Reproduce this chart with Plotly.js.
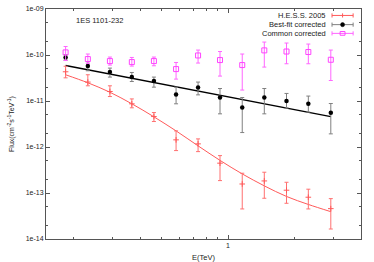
<!DOCTYPE html>
<html>
<head>
<meta charset="utf-8">
<script src="https://cdn.plot.ly/plotly-3.0.1.min.js"></script>
<style>html,body{margin:0;padding:0;background:#fff;}#chart{width:374px;height:262px;}</style>
</head>
<body>
<div id="chart"></div>
<script>
// Energies (TeV)
const energy = [0.184,0.232,0.292,0.367,0.462,0.582,0.732,0.920,1.16,1.46,1.84,2.31,2.92];

// H.E.S.S. 2005
const hessFlux = [4.32e-11,2.58e-11,1.61e-11,8.69e-12,4.59e-12,1.43e-12,1.17e-12,4.45e-13,1.57e-13,1.83e-13,1.15e-13,8.09e-14,4.57e-14];
const hessHi   = [5.69e-11,3.72e-11,2.14e-11,1.11e-11,5.61e-12,2.24e-12,1.50e-12,6.50e-13,2.69e-13,2.83e-13,1.71e-13,1.21e-13,7.54e-14];
const hessLo   = [3.19e-11,2.14e-11,1.25e-11,7.11e-12,3.58e-12,8.36e-13,7.94e-13,1.86e-13,4.50e-14,7.69e-14,5.98e-14,4.50e-14,1.65e-14];
const hessFit  = [3.72e-11,2.49e-11,1.55e-11,8.69e-12,4.53e-12,2.24e-12,1.06e-12,5.12e-13,2.60e-13,1.43e-13,8.41e-14,5.64e-14,3.93e-14];

// Best-fit corrected
const bestFlux = [8.84e-11,5.74e-11,4.25e-11,3.31e-11,2.71e-11,1.38e-11,1.96e-11,1.19e-11,7.21e-12,1.19e-11,9.94e-12,8.69e-12,5.53e-12];
const bestHi   = [1.01e-10,7.13e-11,5.19e-11,4.17e-11,3.31e-11,2.00e-11,2.58e-11,1.87e-11,1.19e-11,1.87e-11,1.46e-11,1.28e-11,8.81e-12];
const bestLo   = [7.68e-11,4.54e-11,3.31e-11,2.65e-11,2.00e-11,8.69e-12,1.36e-11,5.26e-12,2.06e-12,5.26e-12,7.00e-12,5.73e-12,1.93e-12];
const bestFitE = [0.184, 2.92];
const bestFit  = [5.91e-11, 4.59e-12];

// Common corrected
const commonFlux = [1.14e-10,8.16e-11,7.38e-11,7.02e-11,7.38e-11,4.94e-11,9.77e-11,7.76e-11,6.04e-11,1.26e-10,1.19e-10,1.16e-10,7.88e-11];
const commonHi   = [1.53e-10,1.05e-10,9.02e-11,8.84e-11,9.02e-11,6.88e-11,1.28e-10,1.19e-10,1.05e-10,1.91e-10,1.82e-10,1.73e-10,1.28e-10];
const commonLo   = [7.61e-11,6.55e-11,6.04e-11,5.74e-11,5.83e-11,2.99e-11,6.68e-11,3.48e-11,1.73e-11,5.46e-11,6.45e-11,6.45e-11,2.79e-11];

// Ticks
const yTickVals = [1e-14,1e-13,1e-12,1e-11,1e-10,1e-9];
const yTickText = ["1e-14","1e-13","1e-12","1e-11","1e-10","1e-09"];
const yMinorVals = [2e-14,5e-14,2e-13,5e-13,2e-12,5e-12,2e-11,5e-11,2e-10,5e-10];
const xTickVals = [1];
const xTickText = ["1"];
const xMinorVals = [0.2,0.3,0.4,0.5,0.6,0.7,0.8,0.9,2,3];

const legendNames = ["H.E.S.S. 2005","Best-fit corrected","Common corrected"];
const titleText = "1ES 1101-232";

const RED = '#ff5a5a', RED_ERR = '#ff7070';
const BLK = '#000000', BLK_ERR = '#808080';
const MAG = '#ff44ff', MAG_ERR = '#ff66ff';
const FONT = 'Liberation Sans, Arial, sans-serif';

function errs(v, hi, lo){
  return {type:'data', symmetric:false,
    array: v.map((x,i)=>hi[i]-x), arrayminus: v.map((x,i)=>x-lo[i]),
    thickness:1, width:2};
}

const traces = [
  {x: energy, y: hessFit, mode:'lines', line:{color:RED, width:1, shape:'spline'}, hoverinfo:'skip'},
  {x: bestFitE, y: bestFit, mode:'lines', line:{color:BLK, width:1.3}, hoverinfo:'skip'},
  {x: energy, y: hessFlux, mode:'markers', marker:{symbol:'cross-thin', size:4, line:{color:RED, width:1}, color:RED},
   error_y: Object.assign(errs(hessFlux,hessHi,hessLo), {color:RED_ERR})},
  {x: energy, y: bestFlux, mode:'markers', marker:{symbol:'circle', size:4.5, color:BLK},
   error_y: Object.assign(errs(bestFlux,bestHi,bestLo), {color:BLK_ERR})},
  {x: energy, y: commonFlux, mode:'markers', marker:{symbol:'square-open', size:5, line:{color:MAG, width:1}, color:MAG},
   error_y: Object.assign(errs(commonFlux,commonHi,commonLo), {color:MAG_ERR})}
];

// custom gnuplot-style key (text left, sample right)
const keyRows = [0.972, 0.932, 0.894];
const keyCols = [RED, BLK_ERR, MAG_ERR];
const kx0 = 0.908, kx1 = 0.975, kxm = (kx0+kx1)/2, capH = 0.009, mx = 0.0065, my = 0.009;
const shapes = [];
const annotations = [];
keyRows.forEach((yy,i)=>{
  shapes.push({type:'line', xref:'paper', yref:'paper', x0:kx0, x1:kx1, y0:yy, y1:yy, line:{color:keyCols[i], width:1}});
  shapes.push({type:'line', xref:'paper', yref:'paper', x0:kx0, x1:kx0, y0:yy-capH, y1:yy+capH, line:{color:keyCols[i], width:1}});
  shapes.push({type:'line', xref:'paper', yref:'paper', x0:kx1, x1:kx1, y0:yy-capH, y1:yy+capH, line:{color:keyCols[i], width:1}});
  annotations.push({xref:'paper', yref:'paper', x:0.895, y:yy, xanchor:'right', yanchor:'middle', showarrow:false,
    text: legendNames[i], font:{family:FONT, size:7.5, color:'#222'}});
});
// key markers
shapes.push({type:'line', xref:'paper', yref:'paper', x0:kxm, x1:kxm, y0:keyRows[0]-my, y1:keyRows[0]+my, line:{color:RED, width:1}});
shapes.push({type:'circle', xref:'paper', yref:'paper', x0:kxm-mx, x1:kxm+mx, y0:keyRows[1]-my, y1:keyRows[1]+my, fillcolor:BLK, line:{color:BLK, width:0.5}});
shapes.push({type:'rect', xref:'paper', yref:'paper', x0:kxm-mx*1.2, x1:kxm+mx*1.2, y0:keyRows[2]-my*0.9, y1:keyRows[2]+my*0.9, fillcolor:'rgba(0,0,0,0)', line:{color:MAG, width:1}});

annotations.push({xref:'paper', yref:'paper', x:0.088, y:0.949, xanchor:'left', yanchor:'middle', showarrow:false,
  text:titleText, font:{family:FONT, size:7.5, color:'#222'}});

const axisCommon = {
  showgrid:false, zeroline:false, showline:true, linecolor:'#555', linewidth:1, mirror:'ticks',
  ticks:'inside', ticklen:4, tickwidth:1, tickcolor:'#555',
  tickfont:{family:FONT, size:7, color:'#222'}
};

const layout = {
  width:374, height:262,
  margin:{l:46, r:13, t:9, b:23, pad:0},
  paper_bgcolor:'#fff', plot_bgcolor:'#fff',
  showlegend:false,
  xaxis: Object.assign({}, axisCommon, {
    type:'log', range:[Math.log10(0.15), Math.log10(4)],
    tickmode:'array', tickvals:xTickVals, ticktext:xTickText,
    minor:{tickmode:'array', tickvals:xMinorVals, ticks:'inside', ticklen:2, tickcolor:'#555', showgrid:false},
    title:{text:'E(TeV)', font:{family:FONT, size:7.5, color:'#222'}, standoff:6}
  }),
  yaxis: Object.assign({}, axisCommon, {
    type:'log', range:[-14,-9],
    tickmode:'array', tickvals:yTickVals, ticktext:yTickText,
    minor:{tickmode:'array', tickvals:yMinorVals, ticks:'inside', ticklen:2, tickcolor:'#555', showgrid:false},
    title:{text:'Flux(cm<sup>-2</sup>s<sup>-1</sup>TeV<sup>-1</sup>)', font:{family:FONT, size:7, color:'#222'}, standoff:10}
  }),
  shapes: shapes,
  annotations: annotations
};

Plotly.newPlot('chart', traces, layout, {staticPlot:true, displayModeBar:false});
</script>
</body>
</html>
